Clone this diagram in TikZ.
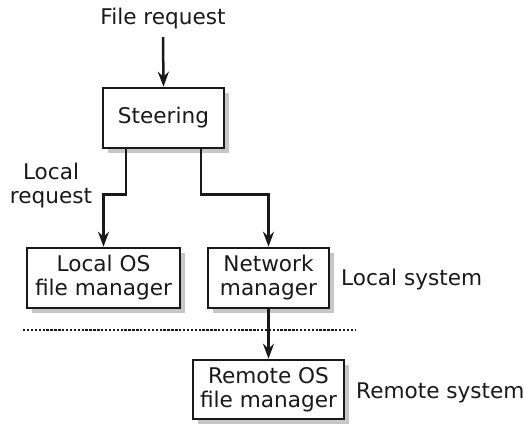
\documentclass[tikz,border=0pt]{standalone}
\usepackage{fontspec}
\setmainfont{DejaVu Sans}
\usetikzlibrary{arrows.meta,shadows}
\begin{document}
\begin{tikzpicture}[x=1pt,y=-1pt,
  every node/.style={font=\fontsize{21.6}{24}\selectfont, text=black!90},
  box/.style={draw=black!90, line width=2.6pt, fill=white, align=center, inner sep=0pt,
    drop shadow={shadow xshift=5pt, shadow yshift=-5pt, fill=black!22, opacity=1}},
  lbl/.style={align=center, inner sep=0pt},
  arr/.style={draw=black!90, line width=2.5pt, -{Stealth[length=15pt,width=11pt,inset=5pt]}}]
\useasboundingbox (0,0) rectangle (524,426);
\node[box, minimum width=121pt, minimum height=60pt] (st) at (163.5,118) {Steering};
\node[box, minimum width=153pt, minimum height=60pt] (loc) at (103.5,278) {Local OS\\file manager};
\node[box, minimum width=121pt, minimum height=60pt] (net) at (268.5,278) {Network\\manager};
\node[box, minimum width=151pt, minimum height=59pt] (rem) at (268.5,389.5) {Remote OS\\file manager};
\node[lbl] (fr) at (163,19) {File request};
\node[lbl] (lr) at (51,186) {Local\\request};
\node[lbl, anchor=west] (ls) at (341,280) {Local system};
\node[lbl, anchor=west] (rs) at (356,393) {Remote system};
\coordinate (dl) at (23,330);
\coordinate (dr) at (356,330);
\draw[draw=black!90, line width=2.4pt, dash pattern=on 2.4pt off 1.5pt] (dl) -- (dr);
\draw[arr] (fr.south |- 0,37) -- (st.north);
\draw[arr] ([xshift=-37.5pt]st.south) -- ++(0,45) -| (loc.north);
\draw[arr] ([xshift=37.5pt]st.south) -- ++(0,45) -| (net.north);
\draw[arr] (net.south) -- (rem.north);
\end{tikzpicture}
\end{document}
